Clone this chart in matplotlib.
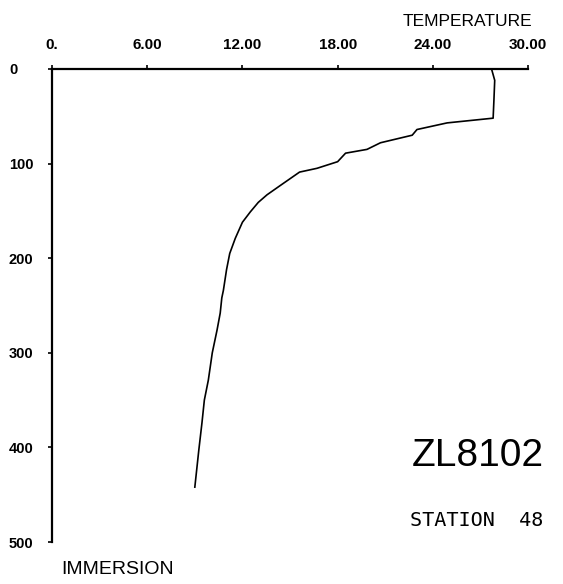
"""
Temperature profile (ZL8102, station 48) — old plotter style chart.

Depth ("IMMERSION") on the vertical axis increasing downward,
temperature on a top horizontal axis. Output: out.png
"""

from pathlib import Path

import matplotlib
matplotlib.use("Agg")
import matplotlib.pyplot as plt


# ---------------------------------------------------------------------------
# Data
# ---------------------------------------------------------------------------

TEMPERATURE = [
    27.7, 27.9, 27.85, 27.8, 24.9, 23.0, 22.7, 20.7, 19.85, 18.5,
    18.0, 16.7, 15.6, 14.4, 13.55, 13.0, 12.5, 12.0, 11.55, 11.2,
    11.0, 10.8, 10.7, 10.6, 10.4, 10.1, 9.85, 9.6, 9.45, 9.25, 9.0,
]
DEPTH = [
    0, 12, 33, 52, 57, 64, 70, 78, 85, 89,
    98, 105, 109, 123, 133, 141, 151, 162, 179, 195,
    212, 234, 242, 258, 276, 300, 329, 350, 374, 403, 442,
]

X_TICKS = [0, 6, 12, 18, 24, 30]
X_TICK_LABELS = ["0.", "6.00", "12.00", "18.00", "24.00", "30.00"]
Y_TICKS = [0, 100, 200, 300, 400, 500]
Y_TICK_LABELS = ["0", "100", "200", "300", "400", "500"]

CRUISE = "ZL8102"
STATION = "STATION  48"

OUTPUT_PNG = Path("out.png")
FIGURE_DPI = 100

# narrower than DejaVu Sans, closer to the plotter lettering
FONT = ["Liberation Sans", "DejaVu Sans"]


def plot_profile() -> plt.Figure:
    fig = plt.figure(figsize=(5.63, 5.84), dpi=FIGURE_DPI)
    ax = fig.add_axes([0.0924, 0.0719, 0.8455, 0.810])

    ax.plot(TEMPERATURE, DEPTH, color="black", linewidth=1.2)

    ax.set_xlim(0, 30)
    ax.set_ylim(500, 0)

    # only the top and left axes, like the plotter output
    for side in ("right", "bottom"):
        ax.spines[side].set_visible(False)
    for side in ("top", "left"):
        ax.spines[side].set_linewidth(1.6)

    ax.xaxis.tick_top()
    ax.set_xticks(X_TICKS)
    ax.set_xticklabels(X_TICK_LABELS, family=FONT, fontweight="bold", fontsize=11)
    ax.tick_params(axis="x", direction="out", length=3, width=1.2, pad=9)

    ax.set_yticks(Y_TICKS)
    ax.set_yticklabels(Y_TICK_LABELS, family=FONT, fontweight="bold", fontsize=10.5)
    ax.tick_params(axis="y", direction="out", length=3, width=1.2, pad=28)
    for label in ax.get_yticklabels():
        label.set_horizontalalignment("left")

    fig.text(467 / 563, 1 - 21 / 584, "TEMPERATURE", family=FONT,
             fontsize=12.5, ha="center", va="center")
    fig.text(118 / 563, 1 - 570 / 584, "IMMERSION", family=FONT,
             fontsize=14, ha="center", va="center")
    fig.text(478 / 563, 1 - 456 / 584, CRUISE, family=FONT,
             fontsize=28, ha="center", va="center")
    fig.text(477 / 563, 1 - 520 / 584, STATION, family="DejaVu Sans Mono",
             fontsize=14.5, ha="center", va="center")

    return fig


def main() -> None:
    fig = plot_profile()
    fig.savefig(OUTPUT_PNG, dpi=FIGURE_DPI)
    plt.close(fig)


if __name__ == "__main__":
    main()
